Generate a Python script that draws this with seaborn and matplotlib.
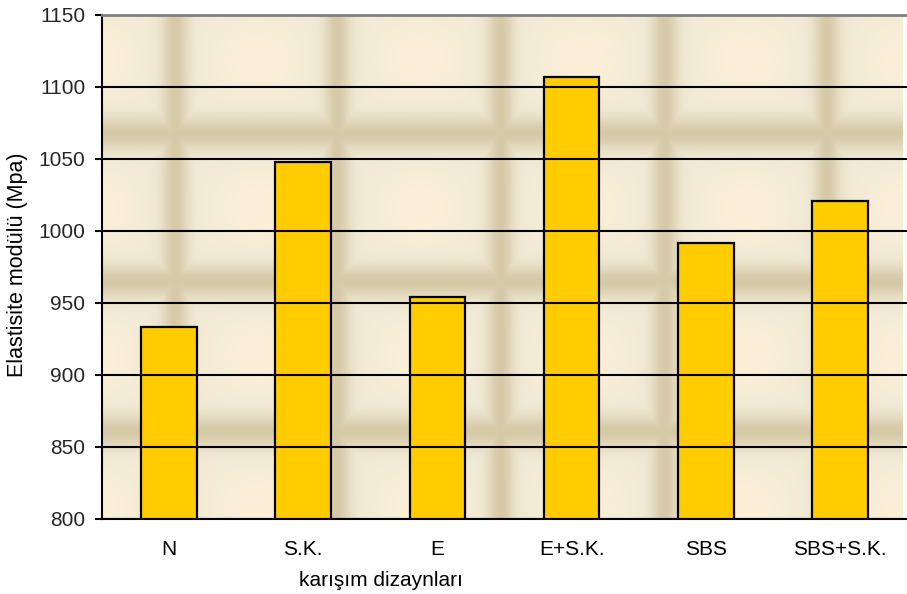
import numpy as np
import pandas as pd
import matplotlib
matplotlib.use("Agg")
import matplotlib.pyplot as plt
import seaborn as sns

# Mix designs and their elastic modulus values (MPa)
categories = ["N", "S.K.", "E", "E+S.K.", "SBS", "SBS+S.K."]
modulus = [933, 1048, 954, 1107, 992, 1021]
y_ticks = [800, 850, 900, 950, 1000, 1050, 1100, 1150]

df = pd.DataFrame({"karisim": categories, "modul": modulus})

sns.set_theme(style="white")
plt.rcParams["font.family"] = ["Liberation Sans", "DejaVu Sans"]

W, H, DPI = 907, 594, 100
FS = 15
fig = plt.figure(figsize=(W / DPI, H / DPI), dpi=DPI)
fig.patch.set_facecolor("white")

ax_left_px, ax_top_px, ax_bottom_px = 102, 15, 519
ax = fig.add_axes([ax_left_px / W, (H - ax_bottom_px) / H,
                   (W - ax_left_px) / W, (ax_bottom_px - ax_top_px) / H])

cat_px = 135.0
x0 = -0.5
x1 = x0 + (W - ax_left_px) / cat_px
y0, y1 = 800, 1150

# woven cream texture behind the plot
pw, ph = W - ax_left_px, ax_bottom_px - ax_top_px
xx = np.arange(pw)[None, :].astype(float)
yy = np.arange(ph)[:, None].astype(float)
v_centers = [73, 236, 400, 565, 728]
h_centers = [118, 266, 416]
v = np.zeros((1, pw))
for c in v_centers:
    v = np.maximum(v, 0.8 * np.exp(-((xx - c) / 13.0) ** 2))
h = np.zeros((ph, 1))
for c in h_centers:
    h = np.maximum(h, 0.8 * np.exp(-((yy - c) / 16.0) ** 2))
d = np.clip(np.maximum(v, h), 0, 1)[..., None]
wx = np.cos(2 * np.pi * (xx - 73) / 164.0)
wy = np.cos(2 * np.pi * (yy - 118) / 149.0)
t = np.clip((1 - wx) * (1 - wy) / 4.0, 0, 1)[..., None]
base = np.array([240, 234, 214]) / 255.0
warmc = np.array([252, 239, 216]) / 255.0
dark = np.array([208, 193, 156]) / 255.0
light = base * (1 - t) + warmc * t
img = light * (1 - d) + dark * d
ax.imshow(img, extent=(x0, x1, y0, y1), origin="upper", aspect="auto",
          zorder=0, interpolation="bilinear")

sns.barplot(data=df, x="karisim", y="modul", order=categories, ax=ax,
            color="#FFCC00", saturation=1, width=0.415,
            edgecolor="black", linewidth=1.6, zorder=2)

ax.set_xlim(x0, x1)
ax.set_ylim(y0, y1)
ax.set_yticks(y_ticks)
ax.set_yticklabels([str(t) for t in y_ticks])
ax.yaxis.grid(True, color="black", linewidth=1.5, zorder=1)
ax.xaxis.grid(False)
ax.set_axisbelow(False)
for gl in ax.get_ygridlines():
    gl.set_zorder(1)

ax.set_xticks(np.arange(-0.5, 6.0, 1.0), minor=True)
ax.tick_params(axis="x", which="major", length=0, pad=15, labelsize=FS, colors="black")
ax.tick_params(axis="x", which="minor", direction="out", length=5, width=1.5, color="black")
ax.tick_params(axis="y", which="major", direction="out", length=5, width=1.5,
               color="black", labelsize=FS, pad=7, left=True)

for s in ["left", "bottom"]:
    ax.spines[s].set_color("black")
    ax.spines[s].set_linewidth(1.5)
ax.spines["top"].set_color("#808080")
ax.spines["top"].set_linewidth(2)
ax.spines["right"].set_visible(False)
for s in ax.spines.values():
    s.set_zorder(3)

ax.set_xlabel("karışım dizaynları", fontsize=FS, color="black")
ax.set_ylabel("Elastisite modülü (Mpa)", fontsize=15.5, color="black")
ax.xaxis.set_label_coords((381 - ax_left_px) / (W - ax_left_px),
                          -(580 - ax_bottom_px) / (ax_bottom_px - ax_top_px))
ax.xaxis.label.set_va("center")
ax.yaxis.set_label_coords(-(ax_left_px - 18) / (W - ax_left_px),
                          (ax_bottom_px - 265) / (ax_bottom_px - ax_top_px))
ax.yaxis.label.set_va("center")

fig.savefig("out.png", dpi=DPI, facecolor="white")
